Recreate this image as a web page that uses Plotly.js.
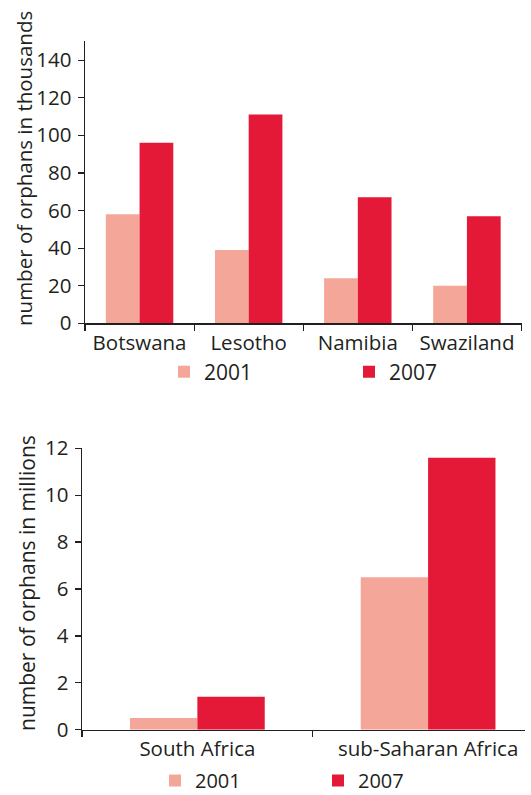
<!DOCTYPE html>
<html>
<head>
<meta charset="utf-8">
<script src="https://cdn.plot.ly/plotly-3.0.1.min.js"></script>
<style>html,body{margin:0;padding:0;background:#fff;}#chart{width:531px;height:795px;}</style>
</head>
<body>
<div id="chart"></div>
<script>
// Top chart data (thousands)
var countries = ["Botswana", "Lesotho", "Namibia", "Swaziland"];
var countries2001 = [58, 39, 24, 20];
var countries2007 = [96, 111, 67, 57];
var topTicks = [0, 20, 40, 60, 80, 100, 120, 140];

// Bottom chart data (millions)
var regions = ["South Africa", "sub-Saharan Africa"];
var regions2001 = [0.5, 6.5];
var regions2007 = [1.4, 11.6];
var bottomTicks = [0, 2, 4, 6, 8, 10, 12];

var seriesNames = ["2001", "2007"];
var colors = {"2001": "#f4a698", "2007": "#e31937"};

var W = 531, H = 795;
var ink = "#231f20";
var FONT = "Open Sans";

var topBarW = 0.309, botBarW = 0.292;

var traces = [
  {type: "bar", name: seriesNames[0], x: countries, y: countries2001, xaxis: "x", yaxis: "y",
   width: topBarW, offset: -topBarW, marker: {color: colors["2001"]}, legend: "legend"},
  {type: "bar", name: seriesNames[1], x: countries, y: countries2007, xaxis: "x", yaxis: "y",
   width: topBarW, offset: 0, marker: {color: colors["2007"]}, legend: "legend"},
  {type: "bar", name: seriesNames[0], x: regions, y: regions2001, xaxis: "x2", yaxis: "y2",
   width: botBarW, offset: -botBarW, marker: {color: colors["2001"]}, legend: "legend2"},
  {type: "bar", name: seriesNames[1], x: regions, y: regions2007, xaxis: "x2", yaxis: "y2",
   width: botBarW, offset: 0, marker: {color: colors["2007"]}, legend: "legend2"}
];

function px(x) { return x / W; }
function py(y) { return (H - y) / H; }

var axisCommon = {
  showline: true, linecolor: ink, linewidth: 1.5, showgrid: false, zeroline: false,
  ticks: "outside", ticklen: 6, tickwidth: 1.2, tickcolor: ink,
  tickfont: {family: FONT, size: 20.5, color: ink}, fixedrange: true
};

var layout = {
  width: W, height: H,
  margin: {l: 0, r: 0, t: 0, b: 0, pad: 0, autoexpand: false},
  paper_bgcolor: "#fff", plot_bgcolor: "#fff",
  barmode: "overlay",
  showlegend: true,
  font: {family: FONT, color: ink},
  xaxis: Object.assign({}, axisCommon, {
    domain: [px(85), px(521.5)], anchor: "y", type: "category",
    range: [-0.5, 3.5], tickson: "boundaries", ticklabelstandoff: 1
  }),
  yaxis: Object.assign({}, axisCommon, {
    domain: [py(323.3), py(41.3)], anchor: "x", ticklabelstandoff: 2,
    range: [0, 150], tickvals: topTicks, ticktext: topTicks.map(String)
  }),
  xaxis2: Object.assign({}, axisCommon, {
    domain: [px(82), px(525)], anchor: "y2", type: "category",
    range: [-0.5, 1.42], tickson: "boundaries", ticklabelstandoff: 0
  }),
  yaxis2: Object.assign({}, axisCommon, {
    domain: [py(729.7), py(448.3)], anchor: "x2", ticklabelstandoff: 2,
    range: [0, 12], tickvals: bottomTicks, ticktext: bottomTicks.map(String)
  }),
  legend: {
    orientation: "h", x: px(164), xanchor: "left", y: py(372), yanchor: "middle",
    entrywidth: 140, entrywidthmode: "pixels",
    font: {family: FONT, size: 21, color: ink}, bgcolor: "rgba(0,0,0,0)"
  },
  legend2: {
    orientation: "h", x: px(155), xanchor: "left", y: py(780.5), yanchor: "middle",
    entrywidth: 118, entrywidthmode: "pixels",
    font: {family: FONT, size: 20, color: ink}, bgcolor: "rgba(0,0,0,0)"
  },
  annotations: [
    {text: "number of orphans in thousands", textangle: -90, xref: "paper", yref: "paper",
     x: px(24), y: py(169), xanchor: "center", yanchor: "middle", showarrow: false,
     font: {family: FONT, size: 20.5, color: ink}},
    {text: "number of orphans in millions", textangle: -90, xref: "paper", yref: "paper",
     x: px(27), y: py(583), xanchor: "center", yanchor: "middle", showarrow: false,
     font: {family: FONT, size: 21, color: ink}}
  ]
};

Plotly.newPlot("chart", traces, layout, {displayModeBar: false, staticPlot: true});
</script>
</body>
</html>
